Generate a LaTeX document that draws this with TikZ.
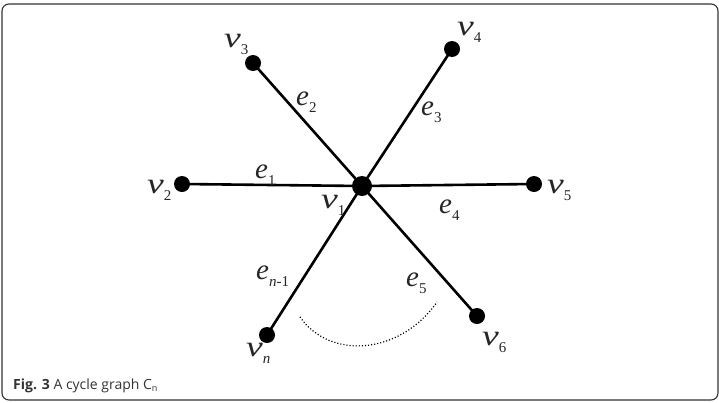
\documentclass[tikz,border=0pt]{standalone}
\usepackage{graphicx}
\usepackage{fontspec}
\setmainfont{Liberation Serif}
\newfontfamily\capfont{Open Sans}
\newcommand{\lbl}[2]{\textit{#1}\raisebox{-0.25em}{\fontsize{15}{15}\selectfont #2}}
\newcommand{\vv}{\scalebox{1.3}[1]{\textit{v}}}
\begin{document}
\begin{tikzpicture}[x=1pt,y=-1pt,
  vtx/.style={circle,fill=black,inner sep=0pt,minimum size=16pt},
  hub/.style={circle,fill=black,inner sep=0pt,minimum size=20pt},
  edge/.style={line width=2.6pt,black},
  lab/.style={anchor=base west,inner sep=0pt,text=black!85,font=\fontsize{29}{32}\selectfont}]
\useasboundingbox (0,0) rectangle (719,402);
\draw[rounded corners=7pt,line width=1.1pt,black!80] (2,4) rectangle (718,400);
% vertices
\node[hub] (v1) at (362,186) {};
\node[vtx] (v2) at (182,184) {};
\node[vtx] (v3) at (253,63) {};
\node[vtx] (v4) at (452,49) {};
\node[vtx] (v5) at (534,184) {};
\node[vtx] (v6) at (477,316) {};
\node[vtx] (vn) at (267,335) {};
% edges
\draw[edge] (v1.center) -- (v2.center);
\draw[edge] (v1.center) -- (v3.center);
\draw[edge] (v1.center) -- (v4.center);
\draw[edge] (v1.center) -- (v5.center);
\draw[edge] (v1.center) -- (v6.center);
\draw[edge] (v1.center) -- (vn.center);
% dotted arc
\coordinate (da) at (300,317);
\coordinate (db) at (437,302);
\draw[line width=1.2pt,dash pattern=on 1.1pt off 2pt] (da) .. controls (330,360) and (400,355) .. (db);
% vertex labels
\node[lab] (lv1) at (321,208) {\lbl{\vv}{1}};
\node[lab] (lv2) at (147,193) {\lbl{\vv}{2}};
\node[lab] (lv3) at (224,47) {\lbl{\vv}{3}};
\node[lab] (lv4) at (457,35) {\lbl{\vv}{4}};
\node[lab] (lv5) at (547,193) {\lbl{\vv}{5}};
\node[lab] (lv6) at (482,345) {\lbl{\vv}{6}};
\node[lab] (lvn) at (246,356) {\lbl{\vv}{\itshape n}};
% edge labels
\node[lab] (le1) at (255,178) {\lbl{e}{1}};
\node[lab] (le2) at (296,105) {\lbl{e}{2}};
\node[lab] (le3) at (421,115) {\lbl{e}{3}};
\node[lab] (le4) at (439,213) {\lbl{e}{4}};
\node[lab] (le5) at (406,286) {\lbl{e}{5}};
\node[lab] (len) at (256,279) {\lbl{e}{\itshape n\upshape -1}};
% caption
\node[anchor=base west,inner sep=0pt,text=black!80,font=\capfont\fontsize{14}{16}\selectfont] (cap) at (13,389)
  {\textbf{Fig. 3} A cycle graph C\raisebox{-0.2em}{\fontsize{9}{10}\selectfont n}};
\end{tikzpicture}
\end{document}
